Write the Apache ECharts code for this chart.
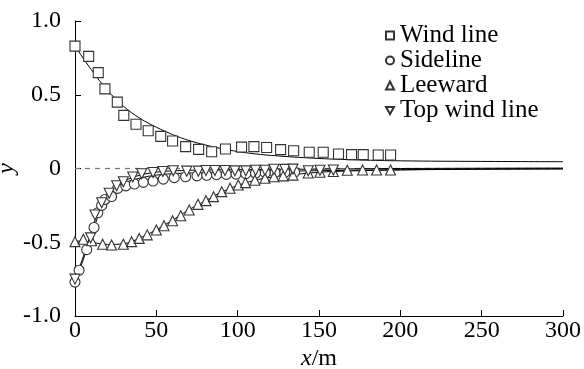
<!DOCTYPE html>
<html>
<head>
<meta charset="utf-8">
<script src="https://cdn.jsdelivr.net/npm/echarts@6/dist/echarts.min.js"></script>
<style>
html, body { margin: 0; padding: 0; background: #fff; }
#main { width: 584px; height: 369px; }
</style>
</head>
<body>
<div id="main"></div>
<script>
var myChart = echarts.init(document.getElementById('main'));

// measured points
var windX = [0, 8.4, 14.3, 18.4, 26, 30, 37.5, 45, 52.7, 60, 68, 76, 84, 92.5, 102.4, 110, 117.8, 126.4, 134.4, 144, 152.6, 162, 170, 177.2, 186.4, 194];
var windY = [0.83, 0.76, 0.65, 0.54, 0.45, 0.36, 0.30, 0.256, 0.218, 0.186, 0.148, 0.13, 0.114, 0.132, 0.145, 0.148, 0.142, 0.128, 0.12, 0.11, 0.11, 0.098, 0.094, 0.094, 0.092, 0.092];

var sideX = [0, 2.5, 7.2, 11.7, 14, 16.4, 18.4, 22.5, 26.2, 31.3, 36.5, 42, 48, 54.3, 61, 68, 75, 81, 87, 93, 99, 105, 111, 117, 123, 129, 135];
var sideY = [-0.77, -0.69, -0.55, -0.40, -0.30, -0.25, -0.21, -0.19, -0.135, -0.118, -0.105, -0.094, -0.085, -0.072, -0.062, -0.056, -0.05, -0.046, -0.042, -0.04, -0.038, -0.035, -0.032, -0.03, -0.028, -0.026, -0.024];

var leeX = [0, 5.1, 10.2, 17, 22.5, 29.7, 34.8, 39.5, 44.4, 50, 54.7, 60, 65, 70.2, 75.6, 80.5, 85.2, 90.2, 95.3, 100.4, 104.8, 110.6, 116.8, 122.3, 128, 134, 143.4, 150.6, 158.8, 167.4, 176.8, 185.4, 194];
var leeY = [-0.496, -0.48, -0.49, -0.514, -0.519, -0.514, -0.496, -0.474, -0.45, -0.417, -0.388, -0.354, -0.32, -0.281, -0.243, -0.218, -0.191, -0.157, -0.134, -0.112, -0.096, -0.08, -0.066, -0.056, -0.05, -0.045, -0.03, -0.025, -0.02, -0.012, -0.01, -0.01, -0.01];

var topX = [0, 9.6, 12.3, 16.4, 21, 25.6, 29.7, 35.5, 41, 48, 54, 60.4, 68.7, 75.8, 80.5, 86, 92.2, 98.3, 105, 111, 116.8, 122.3, 129, 134, 143.4, 150.6, 158.8];
var topY = [-0.75, -0.47, -0.315, -0.232, -0.168, -0.117, -0.09, -0.058, -0.036, -0.027, -0.02, -0.015, -0.018, -0.018, -0.014, -0.014, -0.014, -0.016, -0.016, -0.012, -0.012, -0.005, -0.006, -0.004, -0.015, -0.012, -0.01];

// fitted curves
var windFitX = [0, 10, 20, 30, 40, 50, 60, 70, 80, 90, 100, 110, 125, 150, 175, 200, 250, 300];
var windFitY = [0.83, 0.67, 0.53, 0.42, 0.34, 0.28, 0.23, 0.19, 0.16, 0.135, 0.115, 0.1, 0.085, 0.068, 0.058, 0.052, 0.048, 0.046];
var sideFitX = [0, 5, 10, 15, 20, 25, 30, 40, 50, 60, 80, 100, 150, 200, 250, 300];
var sideFitY = [-0.77, -0.62, -0.46, -0.3, -0.2, -0.14, -0.1, -0.065, -0.045, -0.035, -0.028, -0.024, -0.015, -0.008, -0.004, -0.002];
var topFitX = [0, 5, 10, 15, 20, 25, 30, 40, 50, 60, 80, 100, 150, 200, 300];
var topFitY = [-0.75, -0.6, -0.43, -0.27, -0.18, -0.12, -0.085, -0.045, -0.025, -0.016, -0.01, -0.008, -0.004, 0, 0.003];
var leeFitX = [0, 10, 20, 30, 40, 50, 60, 70, 80, 90, 100, 110, 120, 140, 160, 200, 250, 300];
var leeFitY = [-0.49, -0.5, -0.515, -0.51, -0.47, -0.415, -0.35, -0.28, -0.22, -0.16, -0.115, -0.082, -0.06, -0.035, -0.02, -0.01, -0.005, -0.003];

var zeroX = [0, 300];
var zeroY = [0, 0];

var names = ['Wind line', 'Sideline', 'Leeward', 'Top wind line'];
var font = 'Liberation Serif';

function pairs(xs, ys) {
    return xs.map(function (x, i) { return [x, ys[i]]; });
}

function marks(name, xs, ys, symbol, rotate, size) {
    return {
        name: name,
        type: 'scatter',
        symbol: symbol,
        symbolSize: size,
        symbolRotate: rotate,
        itemStyle: { color: '#fff', borderColor: '#333', borderWidth: 1.1, opacity: 1 },
        data: pairs(xs, ys),
        z: 3
    };
}

function fit(xs, ys) {
    return {
        type: 'line',
        smooth: 0.4,
        showSymbol: false,
        lineStyle: { color: '#000', width: 1 },
        data: pairs(xs, ys),
        silent: true,
        z: 2
    };
}

option = {
    animation: false,
    grid: { left: 75, right: 21, top: 21, bottom: 53, outerBoundsMode: 'none', containLabel: false },
    legend: {
        data: [
            { name: names[0], icon: 'rect' },
            { name: names[1], icon: 'circle' },
            { name: names[2], icon: 'triangle' },
            { name: names[3], icon: 'path://M0,0 L10,0 L5,9 Z' }
        ],
        orient: 'vertical',
        left: 380,
        top: 18,
        itemWidth: 8,
        itemHeight: 8,
        itemGap: 0,
        textStyle: { fontFamily: font, fontSize: 25, lineHeight: 24.5, color: '#000', padding: [0, 0, 0, 1] }
    },
    xAxis: {
        type: 'value',
        min: 0,
        max: 300,
        interval: 50,
        name: '{i|x}/m',
        nameLocation: 'middle',
        nameGap: 31,
        nameMoveOverlap: false,
        nameTextStyle: {
            fontFamily: font, fontSize: 24, color: '#000',
            rich: { i: { fontFamily: font, fontStyle: 'italic', fontSize: 24, color: '#000' } }
        },
        axisLine: { onZero: false, lineStyle: { color: '#000', width: 1 } },
        axisTick: { inside: true, length: 6, lineStyle: { color: '#000' } },
        axisLabel: { fontFamily: font, fontSize: 24, color: '#000', margin: 3 },
        splitLine: { show: false }
    },
    yAxis: {
        type: 'value',
        min: -1,
        max: 1,
        interval: 0.5,
        name: 'y',
        nameLocation: 'middle',
        nameGap: 56,
        nameMoveOverlap: false,
        nameTextStyle: { fontFamily: font, fontStyle: 'italic', fontSize: 24, color: '#000' },
        axisLine: { onZero: false, lineStyle: { color: '#000', width: 1 } },
        axisTick: { inside: true, length: 6, lineStyle: { color: '#000' } },
        axisLabel: {
            fontFamily: font, fontSize: 24, color: '#000', margin: 14,
            formatter: function (v) { return v === 0 ? '0' : v.toFixed(1); }
        },
        splitLine: { show: false }
    },
    series: [
        {
            type: 'line',
            showSymbol: false,
            silent: true,
            lineStyle: { color: '#777', width: 1.2, type: [5, 5] },
            data: pairs(zeroX, zeroY),
            z: 1
        },
        fit(windFitX, windFitY),
        fit(sideFitX, sideFitY),
        fit(topFitX, topFitY),
        fit(leeFitX, leeFitY),
        marks(names[0], windX, windY, 'rect', 0, 10),
        marks(names[1], sideX, sideY, 'circle', 0, 10),
        marks(names[2], leeX, leeY, 'triangle', 0, 10),
        marks(names[3], topX, topY, 'triangle', 180, 10)
    ]
};
myChart.setOption(option);
</script>
</body>
</html>
